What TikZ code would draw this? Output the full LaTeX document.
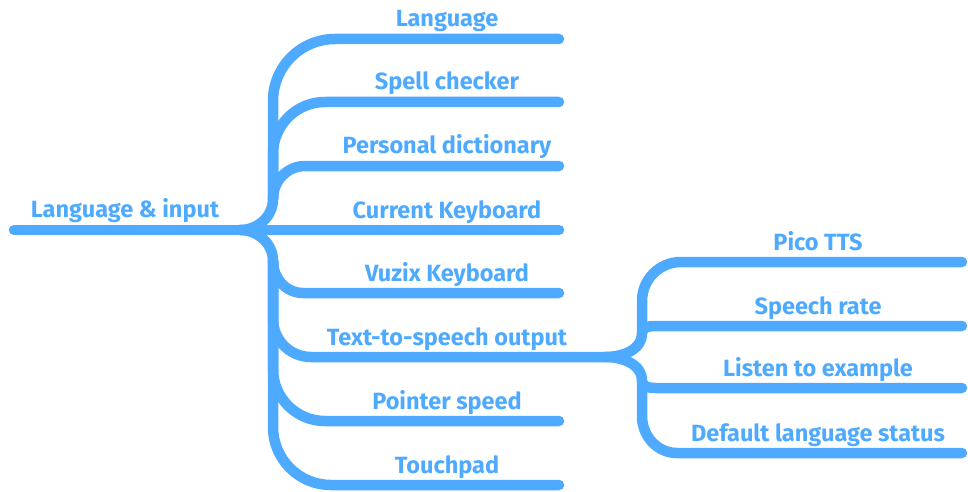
\documentclass[tikz,border=0pt]{standalone}
\usepackage{fontspec}
\setmainfont{Fira Sans}
\definecolor{mmblue}{RGB}{78,170,255}
\begin{document}
\begin{tikzpicture}[x=1pt,y=1pt,
  br/.style={draw=mmblue,line width=10.5pt,line cap=round,line join=round},
  lbl/.style={text=mmblue,font=\fontsize{23.5}{26}\selectfont\bfseries,anchor=base,inner sep=0pt}]
\useasboundingbox (0,0) rectangle (968,491);
% main coordinates
\coordinate (rootL) at (14,261);
\coordinate (jc) at (240,261);
\coordinate (ju) at (273,292);
\coordinate (jd) at (273,230);
\coordinate (e1) at (559,452);
\coordinate (e2) at (559,389);
\coordinate (e3) at (559,325);
\coordinate (e4) at (559,261);
\coordinate (e5) at (559,198);
\coordinate (e7) at (559,70);
\coordinate (e8) at (559,6);
% sub junction
\coordinate (sj) at (605,134);
\coordinate (sju) at (642,158);
\coordinate (sjd) at (642,110);
\coordinate (s1) at (962,229);
\coordinate (s2) at (962,165);
\coordinate (s3) at (962,103);
\coordinate (s4) at (962,38);
% branches
\draw[br] (rootL) -- (e4);
\draw[br] (jc) to[out=0,in=-90] (ju) -- (273,390) to[out=90,in=180] (335,452) -- (e1);
\draw[br] (ju) -- (273,337) to[out=90,in=180] (325,389) -- (e2);
\draw[br] (ju) to[out=90,in=180] (305,325) -- (e3);
\draw[br] (jc) to[out=0,in=90] (jd) to[out=-90,in=180] (303,198) -- (e5);
\draw[br] (jd) -- (273,172) to[out=-90,in=180] (311,134) -- (sj);
\draw[br] (jd) -- (273,122) to[out=-90,in=180] (325,70) -- (e7);
\draw[br] (jd) -- (273,64) to[out=-90,in=180] (331,6) -- (e8);
% sub branches
\draw[br] (sj) to[out=0,in=-90] (sju) -- (642,190) to[out=90,in=180] (681,229) -- (s1);
\draw[br] (sju) to[out=90,in=180] (655,165) -- (s2);
\draw[br] (sj) to[out=0,in=90] (sjd) to[out=-90,in=180] (655,103) -- (s3);
\draw[br] (sjd) -- (642,75) to[out=-90,in=180] (677,38) -- (s4);
% labels
\node[lbl] (troot) at (125,274) {Language \& input};
\node[lbl] (t1) at (447,464) {Language};
\node[lbl] (t2) at (447,401) {Spell checker};
\node[lbl] (t3) at (447,338) {Personal dictionary};
\node[lbl] (t4) at (447,273) {Current Keyboard};
\node[lbl] (t5) at (447,210) {Vuzix Keyboard};
\node[lbl] (t6) at (447,146) {Text-to-speech output};
\node[lbl] (t7) at (447,82) {Pointer speed};
\node[lbl] (t8) at (447,18) {Touchpad};
\node[lbl] (u1) at (818,241) {Pico TTS};
\node[lbl] (u2) at (818,177) {Speech rate};
\node[lbl] (u3) at (818,115) {Listen to example};
\node[lbl] (u4) at (818,50) {Default language status};
\end{tikzpicture}
\end{document}
